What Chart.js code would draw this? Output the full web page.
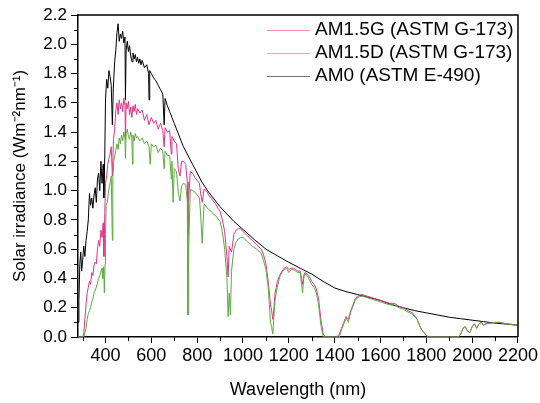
<!DOCTYPE html>
<html>
<head>
<meta charset="utf-8">
<script src="https://cdn.jsdelivr.net/npm/chart.js@4.4.0/dist/chart.umd.min.js"></script>
<style>
  body { margin: 0; background: #fff; }
</style>
</head>
<body>
<canvas id="spectrum" width="540" height="403"></canvas>
<script>
var labels = ["AM1.5G (ASTM G-173)", "AM1.5D (ASTM G-173)", "AM0 (ASTM E-490)"];
var colors = ["#e4328a", "#5cab3e", "#000000"];

var xTicks = [400, 600, 800, 1000, 1200, 1400, 1600, 1800, 2000, 2200];
var xMinor = [300, 500, 700, 900, 1100, 1300, 1500, 1700, 1900, 2100];
var yTicks = [0, 0.2, 0.4, 0.6, 0.8, 1.0, 1.2, 1.4, 1.6, 1.8, 2.0, 2.2];
var yMinor = [0.1, 0.3, 0.5, 0.7, 0.9, 1.1, 1.3, 1.5, 1.7, 1.9, 2.1];

// AM0 extraterrestrial
var am0Wl = [280, 284, 288, 292, 296, 300, 305, 310, 315, 320, 325, 330, 335, 340, 345, 350, 355, 360, 365, 370,
  375, 380, 385, 390, 393, 397, 400, 405, 410, 415, 420, 425, 430, 434, 440, 445, 450, 455, 460, 465,
  470, 475, 480, 485, 487, 490, 495, 500, 505, 510, 516, 520, 525, 530, 535, 540, 545, 550, 555, 560,
  570, 580, 588, 590, 593, 600, 610, 620, 630, 640, 650, 656, 660, 670, 680, 690, 700, 720, 740, 760,
  780, 800, 820, 850, 870, 900, 930, 960, 1000, 1050, 1100, 1150, 1200, 1250, 1300, 1350, 1400, 1450, 1500, 1550,
  1600, 1650, 1700, 1750, 1800, 1850, 1900, 1950, 2000, 2050, 2100, 2150, 2200];
var am0Val = [0.10, 0.25, 0.50, 0.58, 0.45, 0.52, 0.62, 0.55, 0.66, 0.72, 0.80, 0.98, 0.90, 0.95, 0.88, 0.97, 1.02, 0.92, 1.08, 1.12,
  1.00, 1.20, 1.05, 1.18, 0.95, 1.25, 1.62, 1.76, 1.70, 1.82, 1.78, 1.72, 1.45, 1.70, 1.88, 1.96, 2.08, 2.14, 2.02, 2.07,
  2.04, 2.09, 2.01, 2.05, 1.62, 1.96, 2.02, 1.95, 1.99, 1.92, 1.88, 1.94, 1.90, 1.93, 1.88, 1.91, 1.87, 1.90, 1.86, 1.89,
  1.84, 1.86, 1.80, 1.62, 1.82, 1.80, 1.77, 1.75, 1.72, 1.69, 1.66, 1.45, 1.63, 1.58, 1.54, 1.50, 1.46, 1.38, 1.30, 1.24,
  1.18, 1.12, 1.06, 0.99, 0.95, 0.89, 0.84, 0.79, 0.735, 0.665, 0.60, 0.555, 0.51, 0.47, 0.43, 0.38, 0.335, 0.31, 0.29, 0.27,
  0.25, 0.22, 0.20, 0.18, 0.165, 0.15, 0.135, 0.125, 0.115, 0.105, 0.095, 0.088, 0.08];

// AM1.5 global
var amgWl = [280, 300, 305, 310, 315, 320, 325, 330, 335, 340, 345, 350, 355, 360, 365, 370, 375, 380, 385, 390,
  393, 397, 400, 405, 410, 415, 420, 425, 430, 435, 440, 445, 450, 455, 460, 465, 470, 475, 480, 485,
  487, 490, 495, 500, 505, 510, 515, 520, 525, 530, 535, 540, 550, 560, 570, 580, 590, 600, 610, 620,
  630, 640, 650, 656, 660, 670, 680, 687, 690, 700, 710, 718, 725, 732, 740, 750, 757, 760, 763, 770,
  780, 790, 800, 810, 815, 822, 830, 840, 850, 860, 870, 880, 890, 900, 910, 920, 930, 935, 940, 950,
  960, 970, 980, 990, 1000, 1020, 1040, 1060, 1080, 1090, 1100, 1110, 1115, 1120, 1125, 1130, 1135, 1140, 1145, 1150,
  1160, 1170, 1180, 1190, 1200, 1210, 1220, 1230, 1240, 1250, 1260, 1265, 1270, 1280, 1290, 1300, 1310, 1320, 1330, 1340,
  1350, 1360, 1410, 1420, 1430, 1440, 1450, 1460, 1470, 1480, 1490, 1500, 1520, 1540, 1560, 1580, 1600, 1620, 1640, 1660,
  1680, 1700, 1720, 1740, 1760, 1770, 1780, 1790, 1800, 1810, 1940, 1950, 1960, 1970, 1980, 1990, 2000, 2010, 2020, 2030,
  2040, 2050, 2060, 2080, 2100, 2120, 2150, 2180, 2200];
var amgVal = [0, 0, 0.02, 0.12, 0.22, 0.30, 0.34, 0.38, 0.36, 0.44, 0.42, 0.49, 0.51, 0.50, 0.60, 0.66, 0.62, 0.73, 0.68, 0.78,
  0.55, 0.85, 1.05, 1.10, 1.18, 1.22, 1.25, 1.30, 1.10, 1.35, 1.42, 1.55, 1.60, 1.52, 1.62, 1.56, 1.60, 1.54, 1.63, 1.58,
  1.35, 1.60, 1.56, 1.61, 1.52, 1.57, 1.50, 1.58, 1.54, 1.59, 1.52, 1.56, 1.53, 1.55, 1.48, 1.52, 1.45, 1.50, 1.46, 1.48,
  1.42, 1.46, 1.41, 1.30, 1.43, 1.40, 1.41, 1.25, 1.37, 1.34, 1.32, 1.14, 1.10, 1.20, 1.20, 1.18, 1.06, 0.70, 0.95, 1.13,
  1.12, 1.09, 1.07, 1.05, 0.98, 0.92, 1.01, 1.00, 0.97, 0.95, 0.93, 0.91, 0.88, 0.86, 0.80, 0.72, 0.55, 0.41, 0.62, 0.58,
  0.70, 0.73, 0.74, 0.74, 0.72, 0.69, 0.66, 0.63, 0.60, 0.56, 0.50, 0.38, 0.30, 0.22, 0.18, 0.12, 0.20, 0.30, 0.34, 0.38,
  0.42, 0.45, 0.47, 0.48, 0.46, 0.47, 0.47, 0.46, 0.45, 0.45, 0.36, 0.42, 0.44, 0.43, 0.41, 0.38, 0.36, 0.33, 0.26, 0.12,
  0.02, 0, 0, 0.02, 0.06, 0.10, 0.14, 0.12, 0.18, 0.22, 0.26, 0.28, 0.29, 0.28, 0.27, 0.26, 0.25, 0.24, 0.23, 0.23,
  0.21, 0.20, 0.18, 0.165, 0.12, 0.08, 0.05, 0.03, 0.01, 0, 0, 0.02, 0.06, 0.07, 0.04, 0.03, 0.07, 0.09, 0.06, 0.09,
  0.10, 0.08, 0.09, 0.095, 0.10, 0.10, 0.09, 0.085, 0.08];

// AM1.5 direct
var amdWl = [280, 305, 310, 315, 320, 325, 330, 335, 340, 345, 350, 355, 360, 365, 370, 375, 380, 385, 388, 392,
  395, 398, 400, 403, 408, 412, 417, 420, 425, 430, 432, 436, 440, 445, 450, 455, 460, 465, 470, 475,
  480, 485, 487, 490, 495, 500, 505, 510, 515, 518, 520, 525, 530, 535, 540, 550, 560, 570, 580, 590,
  595, 600, 610, 620, 630, 640, 650, 656, 660, 670, 680, 687, 690, 695, 700, 710, 718, 725, 732, 740,
  750, 757, 760, 763, 770, 780, 790, 800, 810, 815, 822, 830, 840, 850, 860, 870, 880, 890, 900, 910,
  920, 930, 935, 940, 945, 950, 960, 970, 980, 990, 1000, 1020, 1040, 1060, 1080, 1090, 1100, 1110, 1115, 1120,
  1125, 1130, 1135, 1140, 1145, 1150, 1160, 1170, 1180, 1190, 1200, 1210, 1220, 1230, 1240, 1250, 1260, 1265, 1270, 1280,
  1290, 1300, 1310, 1320, 1330, 1340, 1350, 1420, 1430, 1440, 1450, 1460, 1470, 1480, 1490, 1500, 1520, 1540, 1560, 1580,
  1600, 1620, 1640, 1660, 1680, 1700, 1720, 1740, 1760, 1770, 1780, 1790, 1800, 1810, 1940, 1950, 1960, 1970, 1980, 1990,
  2000, 2010, 2020, 2030, 2040, 2050, 2060, 2080, 2100, 2120, 2150, 2180, 2200];
var amdVal = [0, 0, 0.03, 0.06, 0.12, 0.16, 0.18, 0.20, 0.24, 0.26, 0.30, 0.32, 0.34, 0.37, 0.40, 0.42, 0.45, 0.47, 0.40, 0.48,
  0.30, 0.50, 0.70, 0.90, 0.92, 0.98, 1.03, 1.05, 1.10, 0.66, 1.08, 1.20, 1.23, 1.28, 1.32, 1.28, 1.36, 1.32, 1.38, 1.34,
  1.40, 1.36, 1.22, 1.39, 1.42, 1.37, 1.35, 1.40, 1.36, 1.18, 1.38, 1.34, 1.39, 1.36, 1.37, 1.34, 1.36, 1.32, 1.34, 1.30,
  1.18, 1.32, 1.30, 1.31, 1.26, 1.29, 1.27, 1.15, 1.27, 1.24, 1.24, 1.08, 1.20, 0.92, 1.15, 1.13, 0.98, 0.93, 1.03, 1.05,
  1.04, 0.93, 0.15, 0.60, 1.01, 1.00, 0.99, 0.97, 0.95, 0.84, 0.64, 0.91, 0.89, 0.87, 0.86, 0.84, 0.83, 0.81, 0.79, 0.72,
  0.60, 0.40, 0.14, 0.30, 0.15, 0.45, 0.60, 0.65, 0.67, 0.68, 0.68, 0.65, 0.62, 0.60, 0.57, 0.52, 0.46, 0.34, 0.22, 0.10,
  0.07, 0.02, 0.14, 0.25, 0.30, 0.34, 0.41, 0.44, 0.46, 0.47, 0.44, 0.46, 0.46, 0.45, 0.44, 0.44, 0.30, 0.40, 0.43, 0.42,
  0.39, 0.36, 0.34, 0.30, 0.22, 0.08, 0, 0, 0.05, 0.09, 0.13, 0.10, 0.17, 0.21, 0.25, 0.27, 0.28, 0.27, 0.26, 0.25,
  0.24, 0.23, 0.22, 0.22, 0.20, 0.19, 0.17, 0.155, 0.12, 0.08, 0.05, 0.03, 0.01, 0, 0, 0.02, 0.06, 0.07, 0.04, 0.03,
  0.07, 0.09, 0.06, 0.09, 0.10, 0.08, 0.09, 0.095, 0.10, 0.10, 0.09, 0.085, 0.08];

function toPoints(wl, val) {
    var pts = [];
    for (var i = 0; i < wl.length; i++) {
        pts.push({x: wl[i], y: val[i]});
    }
    return pts;
}

// minor ticks, box frame and the inset legend
var framePlugin = {
    id: 'frame',
    afterDraw: function(chart) {
        var ctx = chart.ctx;
        var a = chart.chartArea;
        var xs = chart.scales.x;
        var ys = chart.scales.y;
        ctx.save();
        ctx.strokeStyle = '#000';
        ctx.lineWidth = 1;
        ctx.beginPath();
        xMinor.forEach(function(v) {
            var px = Math.round(xs.getPixelForValue(v)) + 0.5;
            ctx.moveTo(px, a.bottom);
            ctx.lineTo(px, a.bottom + 4);
        });
        yMinor.forEach(function(v) {
            var py = Math.round(ys.getPixelForValue(v)) + 0.5;
            ctx.moveTo(a.left, py);
            ctx.lineTo(a.left - 4, py);
        });
        ctx.stroke();

        ctx.lineWidth = 1.5;
        ctx.beginPath();
        ctx.moveTo(a.left, a.top);
        ctx.lineTo(a.right, a.top);
        ctx.lineTo(a.right, a.bottom);
        ctx.stroke();

        ctx.font = '19px "Liberation Sans", Arial, sans-serif';
        ctx.textBaseline = 'middle';
        ctx.fillStyle = '#000';
        for (var i = 0; i < labels.length; i++) {
            var y = 30 + i * 23;
            ctx.strokeStyle = colors[i];
            ctx.globalAlpha = 0.55;
            ctx.lineWidth = 1;
            ctx.beginPath();
            ctx.moveTo(267, y + 0.5);
            ctx.lineTo(310, y + 0.5);
            ctx.stroke();
            ctx.globalAlpha = 1;
            ctx.fillText(labels[i], 315, y);
        }
        ctx.restore();
    }
};

var ctx = document.getElementById('spectrum');

var spectrumChart = new Chart(ctx, {
    type: 'line',
    data: {
        datasets: [
            {label: labels[0], data: toPoints(amgWl, amgVal), borderColor: colors[0], order: 1},
            {label: labels[1], data: toPoints(amdWl, amdVal), borderColor: colors[1], order: 0},
            {label: labels[2], data: toPoints(am0Wl, am0Val), borderColor: colors[2], order: 2}
        ]
    },
    options: {
        responsive: false,
        animation: false,
        layout: {padding: {left: 0, right: 22, top: 15, bottom: 0}},
        elements: {
            line: {borderWidth: 1, tension: 0, fill: false},
            point: {radius: 0}
        },
        plugins: {
            legend: {display: false},
            tooltip: {enabled: false}
        },
        scales: {
            x: {
                type: 'linear',
                min: 280,
                max: 2200,
                afterBuildTicks: function(s) { s.ticks = xTicks.map(function(v) { return {value: v}; }); },
                afterFit: function(s) { s.height = 66; },
                grid: {drawOnChartArea: false, drawTicks: true, tickLength: 6, tickColor: '#000', tickWidth: 1},
                border: {display: true, color: '#000', width: 1.5},
                ticks: {
                    color: '#000', padding: 2, maxRotation: 0, autoSkip: false,
                    font: {family: '"Liberation Sans", Arial, sans-serif', size: 18},
                    callback: function(v) { return String(v); }
                },
                title: {
                    display: true, text: 'Wavelength (nm)', color: '#000',
                    font: {family: '"Liberation Sans", Arial, sans-serif', size: 18},
                    padding: {top: 0, bottom: 2}
                }
            },
            y: {
                min: 0,
                max: 2.2,
                afterBuildTicks: function(s) { s.ticks = yTicks.map(function(v) { return {value: v}; }); },
                afterFit: function(s) { s.width = 78; },
                grid: {drawOnChartArea: false, drawTicks: true, tickLength: 7, tickColor: '#000', tickWidth: 1},
                border: {display: true, color: '#000', width: 1.5},
                ticks: {
                    color: '#000', padding: 4,
                    font: {family: '"Liberation Sans", Arial, sans-serif', size: 17},
                    callback: function(v) { return Number(v).toFixed(1); }
                },
                title: {
                    display: true, text: 'Solar irradiance (Wm\u207B\u00B2nm\u207B\u00B9)', color: '#000',
                    font: {family: '"Liberation Sans", Arial, sans-serif', size: 17},
                    padding: {top: 10, bottom: 0}
                }
            }
        }
    },
    plugins: [framePlugin]
});
</script>
</body>
</html>
